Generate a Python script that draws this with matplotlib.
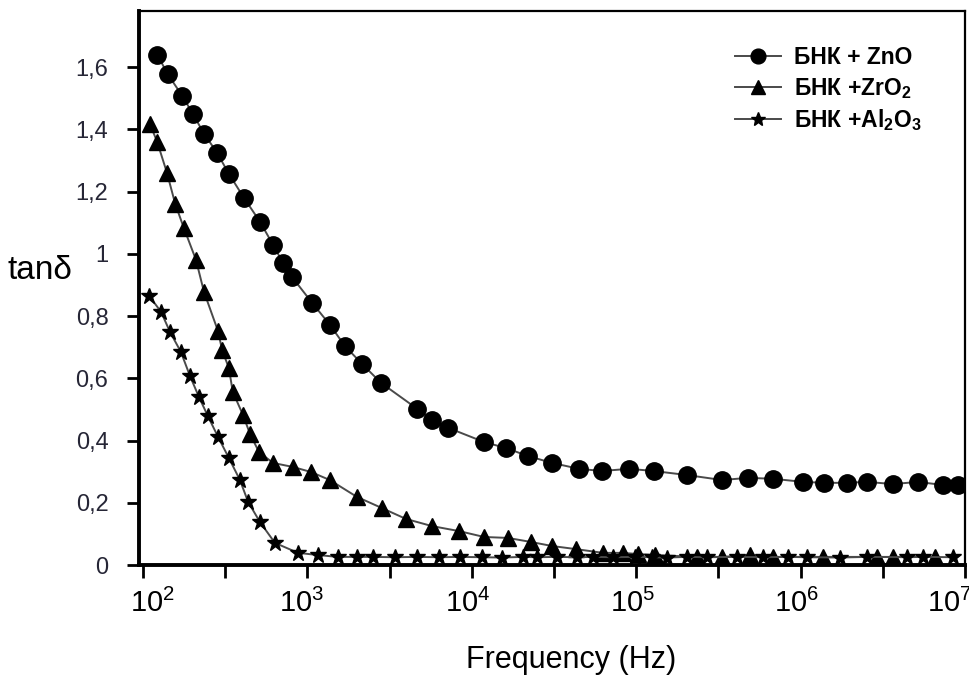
import matplotlib
matplotlib.use("Agg")
import matplotlib.pyplot as plt
from matplotlib.ticker import FixedLocator, FixedFormatter, NullLocator
from matplotlib.transforms import ScaledTranslation

plt.rcParams["font.family"] = ["Liberation Sans", "DejaVu Sans"]
plt.rcParams["mathtext.fontset"] = "custom"
plt.rcParams["mathtext.rm"] = "Liberation Sans"
plt.rcParams["mathtext.bf"] = "Liberation Sans:bold"

# Loss tangent vs frequency for the three filled composites
zno_freq = [122, 142, 173, 201, 235, 282, 333, 411, 515, 618, 711, 805,
            1070, 1370, 1690, 2150, 2810, 4650, 5730, 7160, 11900, 16100,
            22000, 30800, 44900, 61900, 90400, 128000, 204000, 333000,
            479000, 679000, 1.04e6, 1.39e6, 1.91e6, 2.54e6, 3.65e6, 5.18e6,
            7.35e6, 9.06e6]
zno_tan = [1.640, 1.576, 1.508, 1.450, 1.386, 1.325, 1.257, 1.180, 1.103,
           1.029, 0.971, 0.926, 0.842, 0.772, 0.704, 0.646, 0.585, 0.502,
           0.466, 0.441, 0.395, 0.376, 0.350, 0.328, 0.309, 0.302, 0.309,
           0.302, 0.289, 0.273, 0.280, 0.277, 0.267, 0.264, 0.264, 0.267,
           0.260, 0.267, 0.257, 0.257]

zro2_freq = [110, 122, 140, 157, 177, 210, 235, 286, 303, 333, 352, 406,
             448, 508, 618, 817, 1050, 1370, 2000, 2840, 3980, 5730, 8360,
             11900, 16600, 22900, 30800, 43100, 62800, 83200, 103000,
             130000, 234000, 333000, 492000, 679000, 1.37e6, 2.92e6,
             3.65e6, 6.58e6]
zro2_tan = [1.418, 1.360, 1.260, 1.161, 1.084, 0.981, 0.878, 0.752, 0.691,
            0.633, 0.556, 0.482, 0.421, 0.363, 0.328, 0.315, 0.299, 0.273,
            0.219, 0.183, 0.148, 0.125, 0.109, 0.090, 0.087, 0.074, 0.061,
            0.051, 0.039, 0.039, 0.035, 0.032, 0.026, 0.026, 0.032, 0.026,
            0.026, 0.026, 0.026, 0.026]

al2o3_freq = [109, 129, 146, 170, 193, 219, 248, 286, 333, 389, 436, 515,
              635, 877, 1160, 1530, 2000, 2510, 3410, 4650, 6310, 8470,
              11500, 15300, 20500, 24900, 33000, 43700, 54600, 72300, 98400,
              125000, 154000, 204000, 270000, 410000, 590000, 838000,
              1.09e6, 1.73e6, 2.54e6, 4.44e6, 5.56e6, 8.45e6]
al2o3_tan = [0.865, 0.813, 0.749, 0.685, 0.608, 0.540, 0.479, 0.412, 0.344,
             0.273, 0.203, 0.138, 0.071, 0.039, 0.032, 0.026, 0.026, 0.026,
             0.025, 0.026, 0.025, 0.026, 0.025, 0.024, 0.026, 0.025, 0.026,
             0.025, 0.026, 0.025, 0.026, 0.025, 0.024, 0.026, 0.025, 0.026,
             0.025, 0.026, 0.025, 0.024, 0.026, 0.025, 0.026, 0.025]

series_labels = [r"БНК + ZnO", r"БНК +ZrO$_\mathbf{2}$",
                 r"БНК +Al$_\mathbf{2}$O$_\mathbf{3}$"]

y_ticks = [0, 0.2, 0.4, 0.6, 0.8, 1.0, 1.2, 1.4, 1.6]
y_tick_labels = ["0", "0,2", "0,4", "0,6", "0,8", "1", "1,2", "1,4", "1,6"]

fig = plt.figure(figsize=(9.70, 6.84), dpi=100)
ax = fig.add_axes([139 / 970, 1 - 565 / 684, 826 / 970, 554 / 684])

line_kw = dict(color="#4a4a4a", lw=1.4, markerfacecolor="black",
               markeredgecolor="black")
ax.plot(zno_freq, zno_tan, marker="o", ms=12.5, label=series_labels[0], **line_kw)
ax.plot(zro2_freq, zro2_tan, marker="^", ms=11.5, label=series_labels[1], **line_kw)
ax.plot(al2o3_freq, al2o3_tan, marker="*", ms=12, label=series_labels[2], **line_kw)

ax.set_xscale("log")
ax.set_xlim(10 ** 1.976, 1e7)
ax.set_ylim(0, 1.78)

# major ticks every half decade, labels only on whole decades
exps = range(4, 15)
ax.xaxis.set_major_locator(FixedLocator([10 ** (d / 2) for d in exps]))
ax.xaxis.set_major_formatter(FixedFormatter(
    [r"$\mathdefault{10^{%d}}$" % (d // 2) if d % 2 == 0 else ""
     for d in exps]))
ax.xaxis.set_minor_locator(NullLocator())

ax.set_yticks(y_ticks)
ax.set_yticklabels(y_tick_labels)

ax.tick_params(axis="x", direction="out", length=9, width=2, pad=8,
               labelsize=21, colors="black")
ax.tick_params(axis="y", direction="out", length=9, width=2, pad=13,
               labelsize=17, labelcolor="#262636")

# nudge decade labels: first one right, the rest slightly left
fig.canvas.draw()
shifts = {0: 10, 2: -6, 4: -4, 6: -4, 8: -4, 10: -16}
for i, lbl in enumerate(ax.get_xticklabels()):
    if i in shifts:
        lbl.set_transform(lbl.get_transform() +
                          ScaledTranslation(shifts[i] / 100, 0,
                                            fig.dpi_scale_trans))

for side, w in (("left", 2.8), ("bottom", 2.8), ("top", 1.6), ("right", 1.6)):
    ax.spines[side].set_linewidth(w)
    ax.spines[side].set_color("black")

ax.set_xlabel("Frequency (Hz)", fontsize=22)
ax.xaxis.set_label_coords((571 - 139) / 826, -(660 - 565) / 554)
ax.xaxis.label.set_va("center")
fig.text(40 / 970, 1 - 271 / 684, "tanδ", fontsize=24, ha="center",
         va="center")

ax.legend(loc="upper left", bbox_to_anchor=(0.708, 0.958), frameon=False,
          prop={"weight": "bold", "size": 16.5}, handlelength=2.0,
          handletextpad=0.55, labelspacing=0.3, borderpad=0,
          markerscale=0.85)

fig.savefig("out.png", dpi=100)
